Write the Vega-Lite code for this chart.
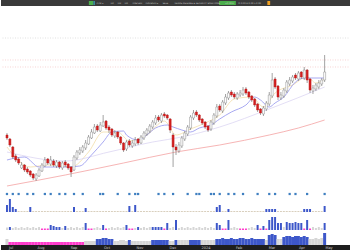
{
"$schema":"https://vega.github.io/schema/vega-lite/v6.json",
"padding":0,
"spacing":0,
"bounds":"flush",
"background":"white",
"resolve":{"scale":{"color":"independent"}},
"config":{"view":{"stroke":null},"text":{"font":"DejaVu Sans"}},
"datasets":{
"d":[
{"i":0,"o":62,"h":64,"l":57,"c":59,"v2":7,"v3":2.5,"k3":"g","v4":6,"k4":"g"},
{"i":1,"o":58,"h":59,"l":50,"c":52,"v2":13,"v3":3,"k3":"b","v4":3,"k4":"m"},
{"i":2,"o":50,"h":51,"l":38,"c":40,"v2":5,"v3":2,"k3":"g","v4":3,"k4":"m"},
{"i":3,"o":41,"h":43,"l":35,"c":37,"v2":3,"v3":3,"k3":"g","v4":3,"k4":"m"},
{"i":4,"o":38,"h":40,"l":32,"c":34,"v2":1,"v3":2,"k3":"g","v4":3,"k4":"m"},
{"i":5,"o":29,"h":35,"l":28,"c":32,"v2":1,"v3":3,"k3":"g","v4":3,"k4":"m"},
{"i":6,"o":32,"h":33,"l":25,"c":27,"v2":1,"v3":2,"k3":"g","v4":3,"k4":"m"},
{"i":7,"o":28,"h":30,"l":23,"c":25,"v2":1,"v3":3,"k3":"g","v4":3,"k4":"m"},
{"i":8,"o":26,"h":27,"l":20,"c":22,"v2":5,"v3":2,"k3":"g","v4":3,"k4":"m"},
{"i":9,"o":23,"h":24,"l":17,"c":19,"v2":1,"v3":3,"k3":"g","v4":3,"k4":"m"},
{"i":10,"o":18,"h":24,"l":16,"c":22,"v2":1,"v3":2,"k3":"g","v4":3,"k4":"m"},
{"i":11,"o":21,"h":29,"l":20,"c":27,"v2":1,"v3":3,"k3":"g","v4":3,"k4":"m"},
{"i":12,"o":26,"h":34,"l":25,"c":32,"v2":1,"v3":1.5,"k3":"m","v4":3,"k4":"m"},
{"i":13,"o":31,"h":40,"l":30,"c":37,"v2":1,"v3":1.5,"k3":"m","v4":3,"k4":"m"},
{"i":14,"o":38,"h":39,"l":32,"c":34,"v2":1,"v3":1.5,"k3":"m","v4":3,"k4":"m"},
{"i":15,"o":33,"h":41,"l":31,"c":37,"v2":1,"v3":5,"k3":"b","v4":3,"k4":"m"},
{"i":16,"o":36,"h":38,"l":30,"c":32,"v2":1,"v3":4,"k3":"b","v4":3,"k4":"m"},
{"i":17,"o":31,"h":37,"l":29,"c":35,"v2":1,"v3":3,"k3":"b","v4":3,"k4":"m"},
{"i":18,"o":35,"h":36,"l":28,"c":30,"v2":1,"v3":3,"k3":"b","v4":3,"k4":"m"},
{"i":19,"o":29,"h":36,"l":27,"c":34,"v2":1,"v3":2,"k3":"g","v4":3,"k4":"m"},
{"i":20,"o":35,"h":37,"l":30,"c":32,"v2":1,"v3":4,"k3":"b","v4":3,"k4":"m"},
{"i":21,"o":33,"h":34,"l":27,"c":29,"v2":1,"v3":2,"k3":"g","v4":3,"k4":"m"},
{"i":22,"o":30,"h":31,"l":20,"c":25,"v2":1,"v3":3,"k3":"g","v4":3,"k4":"m"},
{"i":23,"o":27,"h":42,"l":26,"c":40,"v2":5,"v3":2,"k3":"g","v4":3,"k4":"m"},
{"i":24,"o":39,"h":47,"l":37,"c":45,"v2":1,"v3":3,"k3":"g","v4":3,"k4":"m"},
{"i":25,"o":44,"h":50,"l":42,"c":47,"v2":1,"v3":2,"k3":"g","v4":3,"k4":"m"},
{"i":26,"o":46,"h":52,"l":44,"c":50,"v2":1,"v3":3,"k3":"g","v4":3,"k4":"m"},
{"i":27,"o":49,"h":57,"l":47,"c":54,"v2":4,"v3":7,"k3":"b","v4":4,"k4":"g"},
{"i":28,"o":53,"h":62,"l":52,"c":60,"v2":1,"v3":1.5,"k3":"m","v4":4,"k4":"g"},
{"i":29,"o":59,"h":68,"l":58,"c":65,"v2":1,"v3":1.5,"k3":"m","v4":4,"k4":"g"},
{"i":30,"o":64,"h":73,"l":63,"c":70,"v2":1,"v3":2,"k3":"g","v4":4,"k4":"g"},
{"i":31,"o":71,"h":73,"l":65,"c":67,"v2":1,"v3":3,"k3":"g","v4":6,"k4":"b"},
{"i":32,"o":66,"h":75,"l":65,"c":72,"v2":1,"v3":2,"k3":"g","v4":6,"k4":"b"},
{"i":33,"o":71,"h":82,"l":70,"c":75,"v2":1,"v3":5,"k3":"b","v4":7,"k4":"b"},
{"i":34,"o":76,"h":77,"l":67,"c":69,"v2":1,"v3":1.5,"k3":"m","v4":7,"k4":"b"},
{"i":35,"o":70,"h":72,"l":64,"c":67,"v2":1,"v3":2,"k3":"g","v4":6,"k4":"b"},
{"i":36,"o":68,"h":69,"l":60,"c":62,"v2":1,"v3":3,"k3":"g","v4":6,"k4":"b"},
{"i":37,"o":61,"h":67,"l":59,"c":64,"v2":1,"v3":2,"k3":"g","v4":4,"k4":"g"},
{"i":38,"o":65,"h":66,"l":58,"c":60,"v2":1,"v3":3,"k3":"g","v4":4,"k4":"g"},
{"i":39,"o":60,"h":61,"l":52,"c":54,"v2":1,"v3":2,"k3":"g","v4":5,"k4":"g"},
{"i":40,"o":54,"h":55,"l":45,"c":47,"v2":1,"v3":3,"k3":"g","v4":5,"k4":"g"},
{"i":41,"o":48,"h":57,"l":46,"c":55,"v2":1,"v3":5,"k3":"b","v4":4,"k4":"g"},
{"i":42,"o":56,"h":58,"l":50,"c":52,"v2":6,"v3":1.5,"k3":"m","v4":5,"k4":"b"},
{"i":43,"o":51,"h":57,"l":49,"c":54,"v2":1,"v3":1.5,"k3":"m","v4":4,"k4":"g"},
{"i":44,"o":53,"h":60,"l":51,"c":57,"v2":7,"v3":2,"k3":"g","v4":4,"k4":"g"},
{"i":45,"o":58,"h":59,"l":52,"c":54,"v2":1,"v3":3,"k3":"b","v4":4,"k4":"g"},
{"i":46,"o":54,"h":62,"l":53,"c":60,"v2":1,"v3":2,"k3":"g","v4":4,"k4":"g"},
{"i":47,"o":59,"h":66,"l":57,"c":64,"v2":1,"v3":3,"k3":"g","v4":4,"k4":"g"},
{"i":48,"o":63,"h":69,"l":61,"c":67,"v2":1,"v3":2,"k3":"g","v4":4,"k4":"g"},
{"i":49,"o":66,"h":73,"l":64,"c":71,"v2":1,"v3":3,"k3":"g","v4":4,"k4":"g"},
{"i":50,"o":70,"h":77,"l":68,"c":75,"v2":1,"v3":3,"k3":"b","v4":5,"k4":"b"},
{"i":51,"o":74,"h":82,"l":72,"c":79,"v2":1,"v3":3,"k3":"b","v4":5,"k4":"b"},
{"i":52,"o":80,"h":82,"l":75,"c":77,"v2":1,"v3":3,"k3":"b","v4":5,"k4":"b"},
{"i":53,"o":76,"h":84,"l":74,"c":82,"v2":1,"v3":3,"k3":"b","v4":5,"k4":"b"},
{"i":54,"o":83,"h":85,"l":79,"c":81,"v2":1,"v3":1.5,"k3":"m","v4":5,"k4":"b"},
{"i":55,"o":82,"h":83,"l":77,"c":79,"v2":1,"v3":7,"k3":"b","v4":5,"k4":"b"},
{"i":56,"o":78,"h":79,"l":64,"c":67,"v2":1,"v3":2,"k3":"g","v4":4,"k4":"g"},
{"i":57,"o":62,"h":64,"l":30,"c":50,"v2":1,"v3":3,"k3":"g","v4":4,"k4":"g"},
{"i":58,"o":50,"h":53,"l":42,"c":47,"v2":1,"v3":10,"k3":"b","v4":5,"k4":"b"},
{"i":59,"o":46,"h":55,"l":44,"c":52,"v2":1,"v3":2,"k3":"g","v4":5,"k4":"g"},
{"i":60,"o":51,"h":61,"l":49,"c":59,"v2":1,"v3":3,"k3":"g","v4":5,"k4":"g"},
{"i":61,"o":58,"h":66,"l":56,"c":64,"v2":1,"v3":2,"k3":"g","v4":5,"k4":"g"},
{"i":62,"o":63,"h":72,"l":61,"c":70,"v2":1,"v3":3,"k3":"g","v4":5,"k4":"g"},
{"i":63,"o":69,"h":82,"l":67,"c":80,"v2":1,"v3":2,"k3":"g","v4":5,"k4":"b"},
{"i":64,"o":79,"h":87,"l":77,"c":84,"v2":1,"v3":3,"k3":"g","v4":5,"k4":"b"},
{"i":65,"o":85,"h":87,"l":80,"c":82,"v2":1,"v3":2,"k3":"g","v4":5,"k4":"b"},
{"i":66,"o":82,"h":83,"l":75,"c":77,"v2":1,"v3":3,"k3":"g","v4":5,"k4":"b"},
{"i":67,"o":78,"h":79,"l":72,"c":74,"v2":1,"v3":2,"k3":"g","v4":5,"k4":"g"},
{"i":68,"o":75,"h":76,"l":68,"c":70,"v2":1,"v3":3,"k3":"g","v4":5,"k4":"g"},
{"i":69,"o":71,"h":72,"l":65,"c":67,"v2":1,"v3":2,"k3":"g","v4":5,"k4":"g"},
{"i":70,"o":68,"h":77,"l":66,"c":75,"v2":1,"v3":3,"k3":"g","v4":5,"k4":"g"},
{"i":71,"o":74,"h":84,"l":72,"c":82,"v2":1,"v3":2,"k3":"g","v4":5,"k4":"g"},
{"i":72,"o":81,"h":93,"l":79,"c":90,"v2":5,"v3":7,"k3":"b","v4":6,"k4":"b"},
{"i":73,"o":91,"h":93,"l":85,"c":87,"v2":7,"v3":5,"k3":"b","v4":6,"k4":"b"},
{"i":74,"o":86,"h":97,"l":84,"c":95,"v2":1,"v3":1.5,"k3":"m","v4":7,"k4":"b"},
{"i":75,"o":94,"h":103,"l":92,"c":100,"v2":1,"v3":1.5,"k3":"m","v4":6,"k4":"b"},
{"i":76,"o":99,"h":106,"l":97,"c":104,"v2":3,"v3":10,"k3":"b","v4":6,"k4":"b"},
{"i":77,"o":105,"h":107,"l":100,"c":102,"v2":1,"v3":2,"k3":"g","v4":7,"k4":"b"},
{"i":78,"o":103,"h":105,"l":98,"c":100,"v2":1,"v3":3,"k3":"g","v4":6,"k4":"b"},
{"i":79,"o":99,"h":105,"l":97,"c":103,"v2":1,"v3":2,"k3":"g","v4":6,"k4":"b"},
{"i":80,"o":102,"h":107,"l":100,"c":104,"v2":1,"v3":1.5,"k3":"m","v4":7,"k4":"b"},
{"i":81,"o":103,"h":110,"l":101,"c":107,"v2":1,"v3":1.5,"k3":"m","v4":7,"k4":"b"},
{"i":82,"o":108,"h":110,"l":102,"c":104,"v2":1,"v3":1.5,"k3":"m","v4":6,"k4":"b"},
{"i":83,"o":105,"h":106,"l":98,"c":100,"v2":1,"v3":2,"k3":"g","v4":6,"k4":"b"},
{"i":84,"o":101,"h":102,"l":95,"c":97,"v2":1,"v3":3,"k3":"g","v4":7,"k4":"b"},
{"i":85,"o":98,"h":99,"l":90,"c":92,"v2":1,"v3":2,"k3":"g","v4":6,"k4":"b"},
{"i":86,"o":93,"h":94,"l":85,"c":87,"v2":1,"v3":5,"k3":"b","v4":6,"k4":"b"},
{"i":87,"o":88,"h":89,"l":82,"c":84,"v2":1,"v3":1.5,"k3":"m","v4":6,"k4":"b"},
{"i":88,"o":83,"h":91,"l":81,"c":89,"v2":1,"v3":4,"k3":"b","v4":6,"k4":"b"},
{"i":89,"o":88,"h":96,"l":86,"c":94,"v2":3,"v3":1.5,"k3":"m","v4":5,"k4":"g"},
{"i":90,"o":93,"h":105,"l":91,"c":102,"v2":3,"v3":10,"k3":"b","v4":10,"k4":"b"},
{"i":91,"o":101,"h":124,"l":99,"c":117,"v2":3,"v3":13,"k3":"b","v4":11,"k4":"b"},
{"i":92,"o":118,"h":120,"l":108,"c":110,"v2":3,"v3":13,"k3":"b","v4":10,"k4":"b"},
{"i":93,"o":111,"h":112,"l":97,"c":100,"v2":1,"v3":7,"k3":"b","v4":6,"k4":"g"},
{"i":94,"o":99,"h":105,"l":97,"c":102,"v2":1,"v3":7,"k3":"b","v4":6,"k4":"g"},
{"i":95,"o":101,"h":109,"l":99,"c":107,"v2":1,"v3":3,"k3":"g","v4":8,"k4":"b"},
{"i":96,"o":106,"h":117,"l":104,"c":115,"v2":1,"v3":8,"k3":"b","v4":9,"k4":"b"},
{"i":97,"o":113,"h":120,"l":111,"c":117,"v2":1,"v3":7,"k3":"b","v4":9,"k4":"b"},
{"i":98,"o":116,"h":122,"l":114,"c":120,"v2":1,"v3":7,"k3":"b","v4":8,"k4":"b"},
{"i":99,"o":122,"h":124,"l":117,"c":119,"v2":1,"v3":8,"k3":"b","v4":9,"k4":"b"},
{"i":100,"o":118,"h":126,"l":116,"c":124,"v2":1,"v3":7,"k3":"b","v4":9,"k4":"b"},
{"i":101,"o":125,"h":126,"l":118,"c":120,"v2":1,"v3":7,"k3":"b","v4":8,"k4":"b"},
{"i":102,"o":119,"h":130,"l":117,"c":127,"v2":3,"v3":1.5,"k3":"m","v4":9,"k4":"b"},
{"i":103,"o":127,"h":128,"l":114,"c":117,"v2":3,"v3":10,"k3":"b","v4":8,"k4":"b"},
{"i":104,"o":118,"h":119,"l":104,"c":107,"v2":3,"v3":1.5,"k3":"m","v4":6,"k4":"g"},
{"i":105,"o":106,"h":112,"l":103,"c":109,"v2":1,"v3":3,"k3":"g","v4":6,"k4":"g"},
{"i":106,"o":108,"h":114,"l":106,"c":112,"v2":1,"v3":2,"k3":"g","v4":7,"k4":"g"},
{"i":107,"o":110,"h":117,"l":108,"c":114,"v2":1,"v3":3,"k3":"g","v4":6,"k4":"g"},
{"i":108,"o":113,"h":119,"l":111,"c":117,"v2":1,"v3":2,"k3":"g","v4":7,"k4":"g"},
{"i":109,"o":117,"h":142,"l":115,"c":125,"v2":6,"v3":7,"k3":"b","v4":12,"k4":"b"}
],
"ma":[
{"i":0,"p":50,"k":"y"},{"i":8,"p":30,"k":"y"},{"i":14,"p":32,"k":"y"},{"i":22,"p":30,"k":"y"},{"i":28,"p":45,"k":"y"},{"i":33,"p":65,"k":"y"},{"i":38,"p":65,"k":"y"},{"i":42,"p":56,"k":"y"},{"i":48,"p":62,"k":"y"},{"i":54,"p":76,"k":"y"},{"i":58,"p":62,"k":"y"},{"i":63,"p":68,"k":"y"},{"i":68,"p":74,"k":"y"},{"i":73,"p":82,"k":"y"},{"i":78,"p":98,"k":"y"},{"i":84,"p":100,"k":"y"},{"i":88,"p":90,"k":"y"},{"i":92,"p":104,"k":"y"},{"i":98,"p":112,"k":"y"},{"i":103,"p":120,"k":"y"},{"i":106,"p":114,"k":"y"},{"i":109,"p":118,"k":"y"},
{"i":0,"p":45,"k":"l"},{"i":20,"p":36,"k":"l"},{"i":35,"p":45,"k":"l"},{"i":50,"p":55,"k":"l"},{"i":60,"p":60,"k":"l"},{"i":73,"p":70,"k":"l"},{"i":90,"p":88,"k":"l"},{"i":109,"p":110,"k":"l"},
{"i":0,"p":11,"k":"r"},{"i":20,"p":22,"k":"r"},{"i":40,"p":34,"k":"r"},{"i":58,"p":45,"k":"r"},{"i":73,"p":52,"k":"r"},{"i":90,"p":62,"k":"r"},{"i":100,"p":69,"k":"r"},{"i":109,"p":77,"k":"r"},
{"i":0,"p":37,"k":"b"},{"i":6,"p":40,"k":"b"},{"i":11,"p":30,"k":"b"},{"i":20,"p":30,"k":"b"},{"i":25,"p":31,"k":"b"},{"i":29,"p":42,"k":"b"},{"i":33,"p":55,"k":"b"},{"i":36,"p":65,"k":"b"},{"i":40,"p":66,"k":"b"},{"i":41,"p":62,"k":"b"},{"i":45,"p":57,"k":"b"},{"i":48,"p":62,"k":"b"},{"i":51,"p":69,"k":"b"},{"i":55,"p":72,"k":"b"},{"i":57,"p":70,"k":"b"},{"i":60,"p":67,"k":"b"},{"i":63,"p":65,"k":"b"},{"i":66,"p":69,"k":"b"},{"i":70,"p":72,"k":"b"},{"i":73,"p":78,"k":"b"},{"i":77,"p":85,"k":"b"},{"i":82,"p":92,"k":"b"},{"i":85,"p":100,"k":"b"},{"i":87,"p":97,"k":"b"},{"i":90,"p":90,"k":"b"},{"i":92,"p":94,"k":"b"},{"i":95,"p":100,"k":"b"},{"i":99,"p":115,"k":"b"},{"i":102,"p":119,"k":"b"},{"i":105,"p":119,"k":"b"},{"i":109,"p":119,"k":"b"}
],
"hl":[{"p":159,"k":"g"},{"p":137,"k":"r"},{"p":130,"k":"r"}],
"ev":[{"i":0},{"i":2},{"i":4},{"i":7},{"i":9},{"i":13},{"i":15},{"i":18},{"i":20},{"i":23},{"i":26},{"i":32},{"i":33},{"i":38},{"i":42},{"i":44},{"i":45},{"i":52},{"i":54},{"i":57},{"i":62},{"i":65},{"i":66},{"i":70},{"i":71},{"i":73},{"i":76},{"i":78},{"i":81},{"i":86},{"i":90},{"i":92},{"i":97},{"i":99},{"i":103},{"i":109}],
"hdb":[{"a":25.1,"b":26.3,"k":"g"},{"a":26.4,"b":26.8,"k":"t"},{"a":62.3,"b":67.1,"k":"g"},{"a":76.1,"b":76.9,"k":"o"}],
"hdt":[{"pos":27.3,"t":"ATNI ▾"},{"pos":31.3,"t":"1D"},{"pos":33.3,"t":"1W"},{"pos":35.3,"t":"1M"},{"pos":37.6,"t":"Intervals"},{"pos":41.3,"t":"Indicators ▾"},{"pos":46.2,"t":"Save"},{"pos":49.6,"t":"VERDE DEFENSE & SECURITY SOLUTIONS"},{"pos":64,"t":"+0.00%"},{"pos":67.8,"t":"O 0.00  H 0.00  L 0.00"}],
"ax":[{"i":3,"t":"Jul"},{"i":13,"t":"Aug"},{"i":24,"t":"Sep"},{"i":35,"t":"Oct"},{"i":46,"t":"Nov"},{"i":57,"t":"Dec"},{"i":68,"t":"2024"},{"i":79,"t":"Feb"},{"i":90,"t":"Mar"},{"i":100,"t":"Apr"},{"i":109,"t":"May"}]
},
"vconcat":[
{"width":350,"height":6,"view":{"fill":"#3a3a3a"},
 "resolve":{"scale":{"color":"independent"}},
 "layer":[
  {"data":{"name":"hdb"},"mark":{"type":"rect"},
   "encoding":{"x":{"field":"a","type":"quantitative","scale":{"domain":[0,100],"nice":false,"zero":false},"axis":null},"x2":{"field":"b"},
    "y":{"datum":1,"type":"quantitative","scale":{"domain":[0,6],"nice":false},"axis":null},"y2":{"datum":5},
    "color":{"field":"k","type":"nominal","scale":{"domain":["g","t","o"],"range":["#4cae4c","#3aa0b0","#f0a020"]},"legend":null}}},
  {"data":{"name":"hdt"},"mark":{"type":"text","fontSize":2.2,"align":"left","baseline":"middle","color":"#c8c8c8"},
   "encoding":{"x":{"field":"pos","type":"quantitative","scale":{"domain":[0,100],"nice":false,"zero":false},"axis":null},"text":{"field":"t"}}}
 ]},
{"width":350,"height":191,
 "resolve":{"scale":{"color":"independent"}},
 "layer":[
  {"data":{"name":"hl"},"mark":{"type":"rule","strokeDash":[1,1.5],"strokeWidth":0.7},
   "encoding":{"y":{"field":"p","type":"quantitative","scale":{"domain":[0,191],"nice":false,"zero":false},"axis":null},
    "color":{"field":"k","type":"nominal","scale":{"domain":["g","r"],"range":["#d4d4d4","#f3c2c2"]},"legend":null}}},
  {"data":{"name":"ma"},"mark":{"type":"line","strokeWidth":0.8,"interpolate":"monotone"},
   "encoding":{"x":{"field":"i","type":"quantitative","scale":{"domain":[-0.333,116.333],"nice":false,"zero":false},"axis":null},
    "y":{"field":"p","type":"quantitative","scale":{"domain":[0,191],"nice":false,"zero":false},"axis":null},
    "color":{"field":"k","type":"nominal","scale":{"domain":["y","l","r","b"],"range":["#f2dda8","#dcd6f2","#f4a2a2","#9293ee"]},"legend":null}}},
  {"data":{"name":"d"},"mark":{"type":"rule","strokeWidth":0.8,"color":"#8c8c8c"},
   "encoding":{"x":{"field":"i","type":"quantitative","scale":{"domain":[-0.333,116.333],"nice":false,"zero":false},"axis":null},
    "y":{"field":"l","type":"quantitative","scale":{"domain":[0,191],"nice":false,"zero":false},"axis":null},"y2":{"field":"h"}}},
  {"data":{"name":"d"},"mark":{"type":"bar","width":2,"strokeWidth":0.5},
   "encoding":{"x":{"field":"i","type":"quantitative","scale":{"domain":[-0.333,116.333],"nice":false,"zero":false},"axis":null},
    "y":{"field":"o","type":"quantitative","scale":{"domain":[0,191],"nice":false,"zero":false},"axis":null},"y2":{"field":"c"},
    "fill":{"condition":{"test":"datum.c < datum.o","value":"#d21f1f"},"value":"#ffffff"},
    "stroke":{"condition":{"test":"datum.c < datum.o","value":"#c01818"},"value":"#8c8c8c"}}},
  {"data":{"name":"ev"},"mark":{"type":"square","size":5,"color":"#3f7fc0","opacity":1},
   "encoding":{"x":{"field":"i","type":"quantitative","scale":{"domain":[-0.333,116.333],"nice":false,"zero":false},"axis":null},
    "y":{"datum":3,"type":"quantitative","scale":{"domain":[0,191],"nice":false,"zero":false},"axis":null}}}
 ]},
{"width":350,"height":17,
 "layer":[
  {"data":{"name":"d"},"mark":{"type":"bar","width":2},
   "encoding":{"x":{"field":"i","type":"quantitative","scale":{"domain":[-0.333,116.333],"nice":false,"zero":false},"axis":null},
    "y":{"field":"v2","type":"quantitative","scale":{"domain":[-2,15],"nice":false,"zero":false},"axis":null},"y2":{"datum":0},
    "color":{"condition":{"test":"datum.v2 >= 2","value":"#3d57c9"},"value":"#d9cfbd"}}},
  {"mark":{"type":"rule","color":"#b5b5b5","strokeWidth":1},"encoding":{"y":{"datum":14.6,"type":"quantitative","scale":{"domain":[-2,15],"nice":false,"zero":false},"axis":null}}}
 ]},
{"width":350,"height":18,
 "layer":[
  {"data":{"name":"d"},"mark":{"type":"bar","width":2},
   "encoding":{"x":{"field":"i","type":"quantitative","scale":{"domain":[-0.333,116.333],"nice":false,"zero":false},"axis":null},
    "y":{"field":"v3","type":"quantitative","scale":{"domain":[-2,16],"nice":false,"zero":false},"axis":null},"y2":{"datum":0},
    "color":{"field":"k3","type":"nominal","scale":{"domain":["g","b","m"],"range":["#d6d6d6","#3d57c9","#ff3ccc"]},"legend":null}}},
  {"mark":{"type":"rule","color":"#b5b5b5","strokeWidth":1},"encoding":{"y":{"datum":15.6,"type":"quantitative","scale":{"domain":[-2,16],"nice":false,"zero":false},"axis":null}}}
 ]},
{"width":350,"height":13,
 "layer":[
  {"data":{"name":"d"},"mark":{"type":"bar","width":3},
   "encoding":{"x":{"field":"i","type":"quantitative","scale":{"domain":[-0.333,116.333],"nice":false,"zero":false},"axis":null},
    "y":{"field":"v4","type":"quantitative","scale":{"domain":[0,13],"nice":false,"zero":false},"axis":null},"y2":{"datum":0},
    "color":{"field":"k4","type":"nominal","scale":{"domain":["g","b","m"],"range":["#d6d6d6","#3d57c9","#ff3ccc"]},"legend":null}}},
  {"mark":{"type":"rule","color":"#b5b5b5","strokeWidth":1},"encoding":{"y":{"datum":12.6,"type":"quantitative","scale":{"domain":[0,13],"nice":false,"zero":false},"axis":null}}}
 ]},
{"width":350,"height":5,"view":{"fill":"#1e1e1e"},
 "layer":[
  {"data":{"name":"ax"},"mark":{"type":"text","fontSize":3.5,"color":"#d0d0d0","baseline":"middle"},
   "encoding":{"x":{"field":"i","type":"quantitative","scale":{"domain":[-0.333,116.333],"nice":false,"zero":false},"axis":null},"text":{"field":"t"}}}
 ]}
]
}
